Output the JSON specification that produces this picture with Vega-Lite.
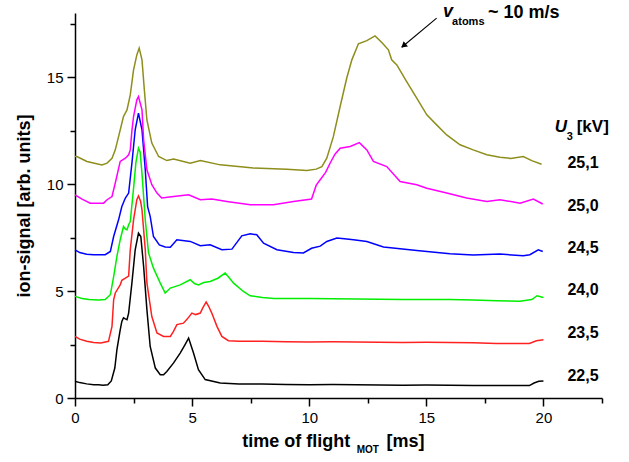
{
  "$schema": "https://vega.github.io/schema/vega-lite/v6.json",
  "width": 527,
  "height": 385,
  "autosize": {"type": "none"},
  "padding": {"left": 75, "top": 13, "right": 27, "bottom": 64},
  "background": "white",
  "config": {
    "view": {"stroke": null},
    "font": "Liberation Sans",
    "axis": {"grid": false, "domainColor": "black", "domainWidth": 1.5, "tickColor": "black", "tickWidth": 1.5, "labelColor": "black", "labelFontSize": 15, "labelFont": "Liberation Sans", "labelPadding": 4, "titleColor": "black", "titleFont": "Liberation Sans", "titleFontSize": 18, "titleFontWeight": "bold"}
  },
  "datasets": {
    "curves": [
      {"U":"22,5","x":0,"y":0.78},{"U":"22,5","x":0.2,"y":0.72},{"U":"22,5","x":0.5,"y":0.66},{"U":"22,5","x":0.8,"y":0.62},{"U":"22,5","x":1.0,"y":0.62},{"U":"22,5","x":1.2,"y":0.6},{"U":"22,5","x":1.4,"y":0.62},{"U":"22,5","x":1.55,"y":0.8},{"U":"22,5","x":1.7,"y":1.4},{"U":"22,5","x":1.79,"y":2.26},{"U":"22,5","x":1.93,"y":3.19},{"U":"22,5","x":2.0,"y":3.58},{"U":"22,5","x":2.07,"y":3.75},{"U":"22,5","x":2.15,"y":3.7},{"U":"22,5","x":2.22,"y":3.66},{"U":"22,5","x":2.29,"y":3.97},{"U":"22,5","x":2.43,"y":5.38},{"U":"22,5","x":2.57,"y":6.93},{"U":"22,5","x":2.71,"y":7.71},{"U":"22,5","x":2.81,"y":7.55},{"U":"22,5","x":2.93,"y":6.15},{"U":"22,5","x":3.07,"y":4.13},{"U":"22,5","x":3.21,"y":2.41},{"U":"22,5","x":3.43,"y":1.4},{"U":"22,5","x":3.64,"y":1.09},{"U":"22,5","x":3.78,"y":1.09},{"U":"22,5","x":3.92,"y":1.24},{"U":"22,5","x":4.21,"y":1.64},{"U":"22,5","x":4.49,"y":2.1},{"U":"22,5","x":4.7,"y":2.5},{"U":"22,5","x":4.85,"y":2.8},{"U":"22,5","x":5.06,"y":2.1},{"U":"22,5","x":5.27,"y":1.32},{"U":"22,5","x":5.56,"y":0.86},{"U":"22,5","x":6.2,"y":0.7},{"U":"22,5","x":7,"y":0.66},{"U":"22,5","x":8,"y":0.65},{"U":"22,5","x":9,"y":0.63},{"U":"22,5","x":10,"y":0.62},{"U":"22,5","x":11,"y":0.63},{"U":"22,5","x":12,"y":0.62},{"U":"22,5","x":13,"y":0.61},{"U":"22,5","x":14,"y":0.6},{"U":"22,5","x":15,"y":0.61},{"U":"22,5","x":16,"y":0.6},{"U":"22,5","x":17,"y":0.59},{"U":"22,5","x":18,"y":0.58},{"U":"22,5","x":19,"y":0.58},{"U":"22,5","x":19.4,"y":0.58},{"U":"22,5","x":19.6,"y":0.7},{"U":"22,5","x":19.8,"y":0.78},{"U":"22,5","x":20,"y":0.8},

      {"U":"23,5","x":0,"y":2.88},{"U":"23,5","x":0.2,"y":2.75},{"U":"23,5","x":0.5,"y":2.65},{"U":"23,5","x":0.8,"y":2.6},{"U":"23,5","x":1.1,"y":2.57},{"U":"23,5","x":1.43,"y":2.65},{"U":"23,5","x":1.58,"y":3.35},{"U":"23,5","x":1.65,"y":4.59},{"U":"23,5","x":1.72,"y":4.91},{"U":"23,5","x":1.93,"y":5.29},{"U":"23,5","x":2.0,"y":5.5},{"U":"23,5","x":2.15,"y":5.6},{"U":"23,5","x":2.29,"y":5.7},{"U":"23,5","x":2.36,"y":6.93},{"U":"23,5","x":2.5,"y":8.33},{"U":"23,5","x":2.64,"y":9.27},{"U":"23,5","x":2.71,"y":9.45},{"U":"23,5","x":2.8,"y":9.2},{"U":"23,5","x":2.86,"y":8.8},{"U":"23,5","x":3.0,"y":6.93},{"U":"23,5","x":3.07,"y":5.38},{"U":"23,5","x":3.28,"y":3.81},{"U":"23,5","x":3.5,"y":3.04},{"U":"23,5","x":3.78,"y":2.88},{"U":"23,5","x":4.07,"y":2.88},{"U":"23,5","x":4.2,"y":3.1},{"U":"23,5","x":4.35,"y":3.43},{"U":"23,5","x":4.63,"y":3.5},{"U":"23,5","x":4.8,"y":3.7},{"U":"23,5","x":4.99,"y":3.97},{"U":"23,5","x":5.15,"y":3.9},{"U":"23,5","x":5.35,"y":3.97},{"U":"23,5","x":5.45,"y":4.2},{"U":"23,5","x":5.6,"y":4.49},{"U":"23,5","x":5.7,"y":4.3},{"U":"23,5","x":5.84,"y":3.97},{"U":"23,5","x":6.06,"y":3.35},{"U":"23,5","x":6.27,"y":2.88},{"U":"23,5","x":6.55,"y":2.68},{"U":"23,5","x":7,"y":2.65},{"U":"23,5","x":8,"y":2.65},{"U":"23,5","x":9,"y":2.63},{"U":"23,5","x":10,"y":2.62},{"U":"23,5","x":11,"y":2.63},{"U":"23,5","x":12,"y":2.62},{"U":"23,5","x":13,"y":2.61},{"U":"23,5","x":14,"y":2.6},{"U":"23,5","x":15,"y":2.61},{"U":"23,5","x":16,"y":2.6},{"U":"23,5","x":17,"y":2.58},{"U":"23,5","x":18,"y":2.55},{"U":"23,5","x":19,"y":2.55},{"U":"23,5","x":19.4,"y":2.55},{"U":"23,5","x":19.7,"y":2.68},{"U":"23,5","x":20,"y":2.72},

      {"U":"24,0","x":0,"y":4.75},{"U":"24,0","x":0.3,"y":4.65},{"U":"24,0","x":0.6,"y":4.6},{"U":"24,0","x":1.0,"y":4.58},{"U":"24,0","x":1.29,"y":4.6},{"U":"24,0","x":1.51,"y":4.83},{"U":"24,0","x":1.65,"y":5.68},{"U":"24,0","x":1.79,"y":6.62},{"U":"24,0","x":1.93,"y":7.4},{"U":"24,0","x":2.07,"y":8.02},{"U":"24,0","x":2.15,"y":7.9},{"U":"24,0","x":2.22,"y":7.87},{"U":"24,0","x":2.29,"y":8.1},{"U":"24,0","x":2.36,"y":8.25},{"U":"24,0","x":2.5,"y":9.8},{"U":"24,0","x":2.6,"y":11.0},{"U":"24,0","x":2.71,"y":11.68},{"U":"24,0","x":2.78,"y":11.5},{"U":"24,0","x":2.86,"y":10.5},{"U":"24,0","x":3.0,"y":8.33},{"U":"24,0","x":3.14,"y":6.78},{"U":"24,0","x":3.35,"y":6.07},{"U":"24,0","x":3.64,"y":5.37},{"U":"24,0","x":3.85,"y":4.91},{"U":"24,0","x":4.07,"y":5.14},{"U":"24,0","x":4.49,"y":5.29},{"U":"24,0","x":4.92,"y":5.53},{"U":"24,0","x":5.1,"y":5.35},{"U":"24,0","x":5.27,"y":5.29},{"U":"24,0","x":5.5,"y":5.4},{"U":"24,0","x":5.77,"y":5.45},{"U":"24,0","x":6.1,"y":5.6},{"U":"24,0","x":6.41,"y":5.84},{"U":"24,0","x":6.6,"y":5.6},{"U":"24,0","x":6.77,"y":5.37},{"U":"24,0","x":7.19,"y":4.98},{"U":"24,0","x":7.48,"y":4.78},{"U":"24,0","x":8,"y":4.7},{"U":"24,0","x":8.5,"y":4.65},{"U":"24,0","x":9,"y":4.65},{"U":"24,0","x":10,"y":4.65},{"U":"24,0","x":11,"y":4.64},{"U":"24,0","x":12,"y":4.63},{"U":"24,0","x":13,"y":4.62},{"U":"24,0","x":14,"y":4.6},{"U":"24,0","x":15,"y":4.6},{"U":"24,0","x":16,"y":4.6},{"U":"24,0","x":17,"y":4.58},{"U":"24,0","x":18,"y":4.55},{"U":"24,0","x":19,"y":4.52},{"U":"24,0","x":19.5,"y":4.6},{"U":"24,0","x":19.73,"y":4.78},{"U":"24,0","x":20,"y":4.7},

      {"U":"24,5","x":0,"y":6.93},{"U":"24,5","x":0.2,"y":6.8},{"U":"24,5","x":0.5,"y":6.72},{"U":"24,5","x":0.8,"y":6.7},{"U":"24,5","x":1.0,"y":6.7},{"U":"24,5","x":1.29,"y":6.7},{"U":"24,5","x":1.51,"y":6.85},{"U":"24,5","x":1.65,"y":7.55},{"U":"24,5","x":1.86,"y":8.33},{"U":"24,5","x":2.0,"y":8.95},{"U":"24,5","x":2.15,"y":9.35},{"U":"24,5","x":2.29,"y":9.58},{"U":"24,5","x":2.43,"y":10.98},{"U":"24,5","x":2.57,"y":12.54},{"U":"24,5","x":2.71,"y":13.32},{"U":"24,5","x":2.86,"y":12.54},{"U":"24,5","x":3.0,"y":10.67},{"U":"24,5","x":3.1,"y":8.95},{"U":"24,5","x":3.21,"y":8.49},{"U":"24,5","x":3.35,"y":7.55},{"U":"24,5","x":3.6,"y":7.16},{"U":"24,5","x":3.85,"y":7.06},{"U":"24,5","x":4.07,"y":7.05},{"U":"24,5","x":4.35,"y":7.4},{"U":"24,5","x":4.92,"y":7.32},{"U":"24,5","x":5.35,"y":7.12},{"U":"24,5","x":5.77,"y":7.16},{"U":"24,5","x":6.27,"y":6.93},{"U":"24,5","x":6.7,"y":6.96},{"U":"24,5","x":7.12,"y":7.58},{"U":"24,5","x":7.48,"y":7.68},{"U":"24,5","x":7.76,"y":7.63},{"U":"24,5","x":8.05,"y":7.24},{"U":"24,5","x":8.62,"y":6.93},{"U":"24,5","x":9.33,"y":6.8},{"U":"24,5","x":9.75,"y":6.78},{"U":"24,5","x":10.1,"y":7.0},{"U":"24,5","x":10.47,"y":7.1},{"U":"24,5","x":10.75,"y":7.32},{"U":"24,5","x":11.18,"y":7.48},{"U":"24,5","x":11.5,"y":7.45},{"U":"24,5","x":11.89,"y":7.4},{"U":"24,5","x":12.46,"y":7.32},{"U":"24,5","x":13.17,"y":7.06},{"U":"24,5","x":14.59,"y":6.9},{"U":"24,5","x":16.01,"y":6.74},{"U":"24,5","x":17.0,"y":6.68},{"U":"24,5","x":18.14,"y":6.73},{"U":"24,5","x":19.14,"y":6.65},{"U":"24,5","x":19.42,"y":6.7},{"U":"24,5","x":19.78,"y":6.93},{"U":"24,5","x":19.97,"y":6.85},

      {"U":"25,0","x":0,"y":9.5},{"U":"25,0","x":0.3,"y":9.3},{"U":"25,0","x":0.65,"y":9.11},{"U":"25,0","x":1.0,"y":9.1},{"U":"25,0","x":1.22,"y":9.11},{"U":"25,0","x":1.37,"y":9.27},{"U":"25,0","x":1.58,"y":9.42},{"U":"25,0","x":1.72,"y":10.05},{"U":"25,0","x":1.93,"y":11.06},{"U":"25,0","x":2.15,"y":11.21},{"U":"25,0","x":2.29,"y":11.37},{"U":"25,0","x":2.36,"y":11.6},{"U":"25,0","x":2.43,"y":12.5},{"U":"25,0","x":2.5,"y":13.16},{"U":"25,0","x":2.64,"y":13.94},{"U":"25,0","x":2.71,"y":14.09},{"U":"25,0","x":2.86,"y":13.47},{"U":"25,0","x":2.93,"y":12.07},{"U":"25,0","x":3.07,"y":10.67},{"U":"25,0","x":3.28,"y":9.97},{"U":"25,0","x":3.5,"y":9.58},{"U":"25,0","x":3.7,"y":9.35},{"U":"25,0","x":4.21,"y":9.42},{"U":"25,0","x":4.85,"y":9.5},{"U":"25,0","x":5.35,"y":9.27},{"U":"25,0","x":5.84,"y":9.3},{"U":"25,0","x":6.48,"y":9.19},{"U":"25,0","x":7.48,"y":9.03},{"U":"25,0","x":8.47,"y":9.03},{"U":"25,0","x":9.33,"y":9.19},{"U":"25,0","x":10.1,"y":9.3},{"U":"25,0","x":10.3,"y":9.95},{"U":"25,0","x":10.5,"y":10.25},{"U":"25,0","x":10.7,"y":10.55},{"U":"25,0","x":10.9,"y":11.0},{"U":"25,0","x":11.1,"y":11.4},{"U":"25,0","x":11.32,"y":11.68},{"U":"25,0","x":11.75,"y":11.76},{"U":"25,0","x":12.14,"y":11.94},{"U":"25,0","x":12.46,"y":11.6},{"U":"25,0","x":12.74,"y":11.06},{"U":"25,0","x":13.31,"y":10.82},{"U":"25,0","x":13.88,"y":10.12},{"U":"25,0","x":14.59,"y":9.97},{"U":"25,0","x":15.02,"y":9.81},{"U":"25,0","x":15.87,"y":9.58},{"U":"25,0","x":16.72,"y":9.35},{"U":"25,0","x":17.58,"y":9.19},{"U":"25,0","x":18.14,"y":9.27},{"U":"25,0","x":19.0,"y":9.11},{"U":"25,0","x":19.57,"y":9.3},{"U":"25,0","x":19.97,"y":9.07},

      {"U":"25,1","x":0,"y":11.29},{"U":"25,1","x":0.08,"y":11.29},{"U":"25,1","x":0.51,"y":11.06},{"U":"25,1","x":1.15,"y":10.9},{"U":"25,1","x":1.37,"y":10.98},{"U":"25,1","x":1.58,"y":11.21},{"U":"25,1","x":1.72,"y":11.6},{"U":"25,1","x":1.86,"y":12.22},{"U":"25,1","x":2.07,"y":13.16},{"U":"25,1","x":2.22,"y":13.47},{"U":"25,1","x":2.36,"y":14.17},{"U":"25,1","x":2.5,"y":15.34},{"U":"25,1","x":2.64,"y":16.04},{"U":"25,1","x":2.74,"y":16.36},{"U":"25,1","x":2.86,"y":15.81},{"U":"25,1","x":2.96,"y":14.41},{"U":"25,1","x":3.07,"y":13.0},{"U":"25,1","x":3.28,"y":11.92},{"U":"25,1","x":3.57,"y":11.29},{"U":"25,1","x":3.92,"y":11.1},{"U":"25,1","x":4.21,"y":11.17},{"U":"25,1","x":4.92,"y":10.98},{"U":"25,1","x":5.35,"y":11.1},{"U":"25,1","x":6.2,"y":10.9},{"U":"25,1","x":7.62,"y":10.75},{"U":"25,1","x":9.04,"y":10.7},{"U":"25,1","x":9.9,"y":10.64},{"U":"25,1","x":10.3,"y":10.7},{"U":"25,1","x":10.54,"y":10.82},{"U":"25,1","x":10.75,"y":11.21},{"U":"25,1","x":11.03,"y":12.22},{"U":"25,1","x":11.32,"y":13.63},{"U":"25,1","x":11.6,"y":14.95},{"U":"25,1","x":11.82,"y":15.81},{"U":"25,1","x":12.1,"y":16.56},{"U":"25,1","x":12.46,"y":16.71},{"U":"25,1","x":12.81,"y":16.93},{"U":"25,1","x":13.1,"y":16.62},{"U":"25,1","x":13.38,"y":16.28},{"U":"25,1","x":13.52,"y":15.81},{"U":"25,1","x":13.74,"y":15.57},{"U":"25,1","x":14.16,"y":14.79},{"U":"25,1","x":14.59,"y":14.02},{"U":"25,1","x":15.02,"y":13.24},{"U":"25,1","x":15.44,"y":12.77},{"U":"25,1","x":15.87,"y":12.3},{"U":"25,1","x":16.44,"y":11.84},{"U":"25,1","x":17.0,"y":11.6},{"U":"25,1","x":17.58,"y":11.37},{"U":"25,1","x":18.14,"y":11.26},{"U":"25,1","x":18.6,"y":11.2},{"U":"25,1","x":19.14,"y":11.29},{"U":"25,1","x":19.5,"y":11.1},{"U":"25,1","x":19.92,"y":10.93}
    ],
    "labels": [
      {"U":"22,5","x":21.69,"y":1.04},{"U":"23,5","x":21.69,"y":3.04},{"U":"24,0","x":21.69,"y":5.03},{"U":"24,5","x":21.69,"y":7.01},{"U":"25,0","x":21.69,"y":8.99},{"U":"25,1","x":21.69,"y":10.98}
    ]
  },
  "layer": [
    {
      "data": {"name": "curves"},
      "mark": {"type": "line", "strokeWidth": 1.5, "interpolate": "linear"},
      "encoding": {
        "x": {"field": "x", "type": "quantitative", "scale": {"domain": [0, 22.5], "nice": false, "zero": false},
          "axis": {"title": null, "values": [0,2.5,5,7.5,10,12.5,15,17.5,20,22.5], "labelExpr": "datum.value % 5 === 0 ? format(datum.value, 'd') : ''", "tickSize": {"condition": {"test": "datum.value % 5 === 0", "value": 8}, "value": 5}, "labelFlush": false}},
        "y": {"field": "y", "type": "quantitative", "scale": {"domain": [0, 18], "nice": false, "zero": false},
          "axis": {"title": "ion-signal [arb. units]", "values": [0,2.5,5,7.5,10,12.5,15,17.5], "labelExpr": "datum.value % 5 === 0 ? format(datum.value, 'd') : ''", "tickSize": {"condition": {"test": "datum.value % 5 === 0", "value": 8}, "value": 5}, "titlePadding": 13, "labelFlush": false}},
        "color": {"field": "U", "type": "nominal", "legend": null,
          "scale": {"domain": ["22,5","23,5","24,0","24,5","25,0","25,1"], "range": ["#000000","#FF2020","#00EE00","#0000FF","#FF00FF","#8E8E1C"]}},
        "detail": {"field": "U"}
      }
    },
    {
      "data": {"name": "labels"},
      "mark": {"type": "text", "font": "Liberation Sans", "fontWeight": "bold", "fontSize": 16, "align": "center", "baseline": "middle", "color": "black"},
      "encoding": {"x": {"field": "x", "type": "quantitative"}, "y": {"field": "y", "type": "quantitative"}, "text": {"field": "U"}}
    },
    {
      "data": {"values": [{"txt": "U", "x": 20.75, "y": 12.68}]},
      "mark": {"type": "text", "font": "Liberation Sans", "fontWeight": "bold", "fontStyle": "italic", "fontSize": 17, "align": "center", "baseline": "middle", "color": "black"},
      "encoding": {"x": {"field": "x", "type": "quantitative"}, "y": {"field": "y", "type": "quantitative"}, "text": {"field": "txt"}}
    },
    {
      "data": {"values": [{"txt": "3", "x": 21.13, "y": 12.22}]},
      "mark": {"type": "text", "font": "Liberation Sans", "fontWeight": "bold", "fontSize": 11, "align": "center", "baseline": "middle", "color": "black"},
      "encoding": {"x": {"field": "x", "type": "quantitative"}, "y": {"field": "y", "type": "quantitative"}, "text": {"field": "txt"}}
    },
    {
      "data": {"values": [{"txt": "[kV]", "x": 21.42, "y": 12.68}]},
      "mark": {"type": "text", "font": "Liberation Sans", "fontWeight": "bold", "fontSize": 17, "align": "left", "baseline": "middle", "color": "black"},
      "encoding": {"x": {"field": "x", "type": "quantitative"}, "y": {"field": "y", "type": "quantitative"}, "text": {"field": "txt"}}
    },
    {
      "data": {"values": [{"x": 15.44, "y": 17.76, "x2": 13.95, "y2": 16.4}]},
      "mark": {"type": "rule", "strokeWidth": 1.1, "color": "black"},
      "encoding": {"x": {"field": "x", "type": "quantitative"}, "y": {"field": "y", "type": "quantitative"}, "x2": {"field": "x2"}, "y2": {"field": "y2"}}
    },
    {
      "data": {"values": [{"x": 14.06, "y": 16.5}]},
      "mark": {"type": "point", "shape": "triangle", "angle": 230, "size": 45, "filled": true, "color": "black", "opacity": 1},
      "encoding": {"x": {"field": "x", "type": "quantitative"}, "y": {"field": "y", "type": "quantitative"}}
    },
    {
      "data": {"values": [{"txt": "v", "x": 15.71, "y": 18.05}]},
      "mark": {"type": "text", "font": "Liberation Sans", "fontWeight": "bold", "fontStyle": "italic", "fontSize": 18, "align": "left", "baseline": "middle", "color": "black"},
      "encoding": {"x": {"field": "x", "type": "quantitative"}, "y": {"field": "y", "type": "quantitative"}, "text": {"field": "txt"}}
    },
    {
      "data": {"values": [{"txt": "atoms", "x": 16.1, "y": 17.58}]},
      "mark": {"type": "text", "font": "Liberation Sans", "fontWeight": "bold", "fontSize": 11, "align": "left", "baseline": "middle", "color": "black"},
      "encoding": {"x": {"field": "x", "type": "quantitative"}, "y": {"field": "y", "type": "quantitative"}, "text": {"field": "txt"}}
    },
    {
      "data": {"values": [{"txt": "~ 10 m/s", "x": 17.63, "y": 18.0}]},
      "mark": {"type": "text", "font": "Liberation Sans", "fontWeight": "bold", "fontSize": 18, "align": "left", "baseline": "middle", "color": "black"},
      "encoding": {"x": {"field": "x", "type": "quantitative"}, "y": {"field": "y", "type": "quantitative"}, "text": {"field": "txt"}}
    },
    {
      "data": {"values": [{"txt": "time of flight", "x": 11.75, "y": -2.04}]},
      "mark": {"type": "text", "font": "Liberation Sans", "fontWeight": "bold", "fontSize": 18, "align": "right", "baseline": "middle", "color": "black"},
      "encoding": {"x": {"field": "x", "type": "quantitative"}, "y": {"field": "y", "type": "quantitative"}, "text": {"field": "txt"}}
    },
    {
      "data": {"values": [{"txt": "MOT", "x": 12.5, "y": -2.42}]},
      "mark": {"type": "text", "font": "Liberation Sans", "fontWeight": "bold", "fontSize": 10, "align": "center", "baseline": "middle", "color": "black"},
      "encoding": {"x": {"field": "x", "type": "quantitative"}, "y": {"field": "y", "type": "quantitative"}, "text": {"field": "txt"}}
    },
    {
      "data": {"values": [{"txt": "[ms]", "x": 13.3, "y": -2.04}]},
      "mark": {"type": "text", "font": "Liberation Sans", "fontWeight": "bold", "fontSize": 18, "align": "left", "baseline": "middle", "color": "black"},
      "encoding": {"x": {"field": "x", "type": "quantitative"}, "y": {"field": "y", "type": "quantitative"}, "text": {"field": "txt"}}
    }
  ]
}
